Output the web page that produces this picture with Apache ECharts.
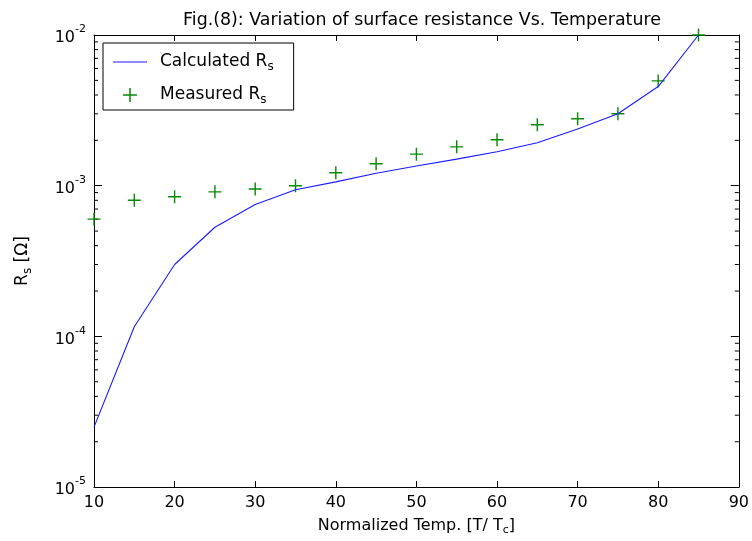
<!DOCTYPE html>
<html><head><meta charset="utf-8">
<script src="https://cdn.jsdelivr.net/npm/echarts@6/dist/echarts.min.js"></script>
<style>html,body{margin:0;padding:0;background:#fff}#c{width:752px;height:541px}</style>
</head><body><div id="c"></div>
<script>
const temps = [10,15,20,25,30,35,40,45,50,55,60,65,70,75,80,85];
const calculatedRs = [2.5e-5,1.16e-4,3.0e-4,5.3e-4,7.5e-4,9.4e-4,1.06e-3,1.21e-3,1.35e-3,1.5e-3,1.68e-3,1.93e-3,2.38e-3,3.0e-3,4.55e-3,1.0e-2];
const measuredRs = [6.0e-4,8.0e-4,8.45e-4,9.1e-4,9.5e-4,1.0e-3,1.22e-3,1.4e-3,1.62e-3,1.81e-3,2.02e-3,2.54e-3,2.78e-3,3.0e-3,4.96e-3,1.0e-2];
const xTicks = [10,20,30,40,50,60,70,80,90];
const yDecades = [1e-5,1e-4,1e-3,1e-2];
const titleText = 'Fig.(8): Variation of surface resistance Vs. Temperature';

const FONT = 'DejaVu Sans';
const minorVals = [];
for (let k = -5; k <= -3; k++) for (let m = 2; m <= 9; m++) minorVals.push(m * Math.pow(10, k));

const chart = echarts.init(document.getElementById('c'), null, {renderer: 'canvas'});
const plusPath = 'path://M8.9,0H11.1V8.9H20V11.1H11.1V20H8.9V11.1H0V8.9H8.9Z';
const logLabel = v => { const e = Math.round(Math.log10(v)); return '{b|10}{s|' + e + '}'; };
const labRich = {
  b: {fontFamily: FONT, fontSize: 16, color: '#000', verticalAlign: 'bottom', lineHeight: 22},
  s: {fontFamily: FONT, fontSize: 11, color: '#000', verticalAlign: 'top', lineHeight: 22, padding:[0,0,10,0]}
};
const subRich = {
  b: {fontFamily: FONT, fontSize: 16, color: '#000', lineHeight: 20},
  s: {fontFamily: FONT, fontSize: 11, color: '#000', padding: [9,0,0,0], lineHeight: 20}
};
const legRich = {
  p: {fontFamily: FONT, fontSize: 17, color: '#000', lineHeight: 20, padding: [0,0,0,8]},
  s: {fontFamily: FONT, fontSize: 12, color: '#000', padding: [10,0,0,0], lineHeight: 20}
};
const yNameRich = {
  b: {fontFamily: FONT, fontSize: 17, color: '#000', lineHeight: 20},
  s: {fontFamily: FONT, fontSize: 12, color: '#000', padding: [10,0,0,0], lineHeight: 20}
};
const axisLine = {show: true, lineStyle: {color: '#000', width: 1}};
chart.setOption({
  animation: false,
  backgroundColor: '#fff',
  title: {text: titleText, left: 417, textAlign: 'center', top: 7,
    textStyle: {fontFamily: FONT, fontSize: 17.4, fontWeight: 'normal', color: '#000'}},
  grid: {left: 94, right: 13, top: 35, bottom: 53},
  legend: {
    orient: 'vertical', left: 103, top: 43, padding: [8, 20, 4, 10], itemGap: 11,
    itemWidth: 34, itemHeight: 14,
    borderColor: '#000', borderWidth: 1, backgroundColor: '#fff',
    data: [
      {name: 'Calculated', icon: 'path://M0,9.5H34V10.5H0Z'},
      {name: 'Measured', icon: plusPath}
    ],
    formatter: n => n === 'Calculated' ? '{p|Calculated R}{s|s}' : '{p|Measured R}{s|s}',
    textStyle: {rich: legRich}
  },
  xAxis: [
    {type: 'value', min: 10, max: 90, interval: 10, position: 'bottom',
      axisLine, splitLine: {show: false},
      axisTick: {inside: true, length: 6, lineStyle: {color: '#000'}},
      axisLabel: {fontFamily: FONT, fontSize: 16, color: '#000', margin: 8},
      name: '{b|Normalized Temp. [T/ T}{s|c}{b|]}', nameLocation: 'middle', nameGap: 28,
      nameTextStyle: {rich: subRich}},
    {type: 'value', min: 10, max: 90, interval: 10, position: 'top',
      axisLine, splitLine: {show: false},
      axisTick: {inside: true, length: 6, lineStyle: {color: '#000'}},
      axisLabel: {show: false}}
  ],
  yAxis: [
    {type: 'log', logBase: 10, min: 1e-5, max: 1e-2, position: 'left',
      axisLine, splitLine: {show: false},
      axisTick: {inside: true, length: 8, lineStyle: {color: '#000'}},
      axisLabel: {formatter: logLabel, rich: labRich, margin: 8},
      name: '{b|R}{s|s}{b| [Ω]}', nameLocation: 'middle', nameGap: 61, nameRotate: 90,
      nameTextStyle: {rich: yNameRich}},
    {type: 'log', logBase: 10, min: 1e-5, max: 1e-2, position: 'right',
      axisLine, splitLine: {show: false},
      axisTick: {inside: true, length: 8, lineStyle: {color: '#000'}},
      axisLabel: {show: false}}
  ],
  series: [
    {type: 'custom', silent: true, xAxisIndex: 0, yAxisIndex: 0,
      data: minorVals.map(v => [10, v]),
      renderItem: (params, api) => {
        const y = api.coord([10, api.value(1)])[1];
        const cs = params.coordSys;
        return {type: 'group', children: [
          {type: 'line', shape: {x1: cs.x, y1: y, x2: cs.x + 4, y2: y}, style: {stroke: '#000', lineWidth: 1}},
          {type: 'line', shape: {x1: cs.x + cs.width, y1: y, x2: cs.x + cs.width - 4, y2: y}, style: {stroke: '#000', lineWidth: 1}}
        ]};
      }},
    {name: 'Calculated', type: 'line', data: temps.map((t, i) => [t, calculatedRs[i]]),
      showSymbol: false, symbol: 'none', lineStyle: {color: '#1a1aff', width: 1.1}, itemStyle: {color: '#1a1aff'}},
    {name: 'Measured', type: 'scatter', data: temps.map((t, i) => [t, measuredRs[i]]),
      symbol: plusPath, symbolSize: 13, itemStyle: {color: '#0a8a0a', opacity: 1}}
  ]
});
</script></body></html>
